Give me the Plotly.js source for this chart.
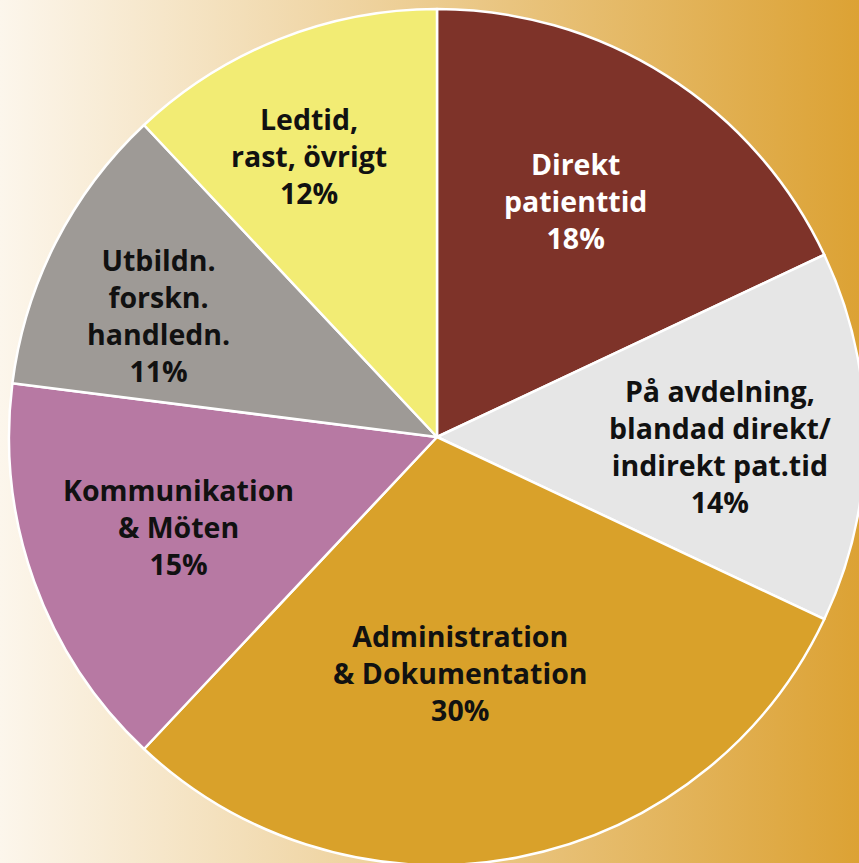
<!DOCTYPE html>
<html>
<head>
<meta charset="utf-8">
<script src="https://cdn.plot.ly/plotly-3.0.1.min.js"></script>
<style>
  html, body { margin: 0; padding: 0; overflow: hidden; }
  #wrap { width: 859px; height: 863px; overflow: hidden; position: relative;
          background: linear-gradient(to right, #FCF6EC 0%, #DCA234 100%); }
  #chart { width: 874px; height: 874px; position: absolute; left: 0; top: 0; }
</style>
</head>
<body>
<div id="wrap"><div id="chart"></div></div>
<script>
// Data
const categories = [
  "Direkt patienttid",
  "På avdelning, blandad direkt/indirekt pat.tid",
  "Administration & Dokumentation",
  "Kommunikation & Möten",
  "Utbildn. forskn. handledn.",
  "Ledtid, rast, övrigt"
];
const values = [18, 14, 30, 15, 11, 12];
const labelLines = [
  ["Direkt", "patienttid"],
  ["På avdelning,", "blandad direkt/", "indirekt pat.tid"],
  ["Administration", "& Dokumentation"],
  ["Kommunikation", "& Möten"],
  ["Utbildn.", "forskn.", "handledn."],
  ["Ledtid,", "rast, övrigt"]
];
const colors = ["#7E3329", "#E6E6E6", "#D9A12A", "#B779A3", "#9E9A96", "#F2EC74"];
const textColors = ["#FFFFFF", "#111111", "#111111", "#111111", "#111111", "#111111"];

// label block centres (pixels in the 874x874 plot area)
const labelPos = [[575, 201], [720, 447], [460, 673], [178, 527], [158, 315], [309, 156]];

const W = 874, H = 874;
const annotations = categories.map((c, i) => {
  const lines = labelLines[i].concat([values[i] + "%"]);
  return {
    xref: "paper", yref: "paper",
    x: labelPos[i][0] / W, y: 1 - labelPos[i][1] / H,
    xanchor: "center", yanchor: "middle", align: "center",
    text: lines.map(t => "<b>" + t + "</b>").join("<br>"),
    showarrow: false,
    font: { family: "Open Sans, sans-serif", size: 28.5, color: textColors[i] }
  };
});

Plotly.newPlot("chart", [{
  type: "pie",
  labels: categories,
  values: values,
  sort: false,
  direction: "clockwise",
  rotation: 0,
  textinfo: "none",
  hoverinfo: "label+percent",
  marker: { colors: colors, line: { color: "#FFFFFF", width: 2.5 } },
  domain: { x: [9 / W, 865 / W], y: [9 / H, 865 / H] }
}], {
  width: W, height: H,
  margin: { l: 0, r: 0, t: 0, b: 0 },
  paper_bgcolor: "rgba(0,0,0,0)",
  plot_bgcolor: "rgba(0,0,0,0)",
  showlegend: false,
  annotations: annotations
}, { displayModeBar: false, staticPlot: true });
</script>
</body>
</html>
